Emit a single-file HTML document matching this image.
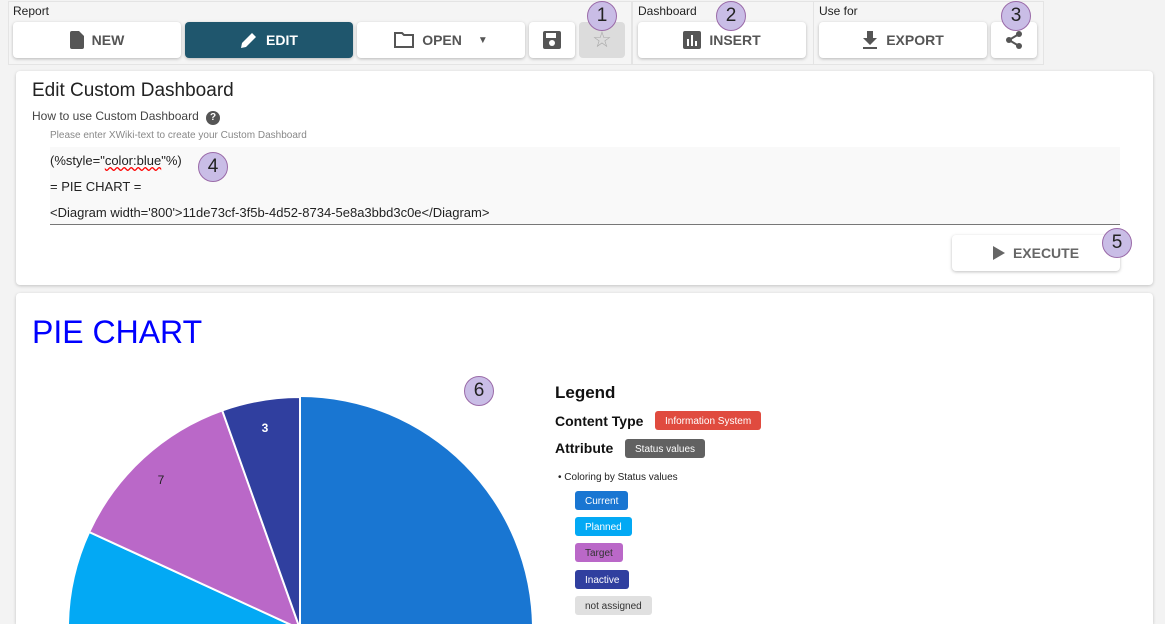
<!DOCTYPE html>
<html><head><meta charset="utf-8"><style>
html,body{margin:0;width:1165px;height:624px;overflow:hidden}
body{background:#f3f3f3;font-family:"Liberation Sans",sans-serif;position:relative}
.a{position:absolute}
.btn{position:absolute;top:22px;height:36px;background:#fff;border-radius:4px;box-shadow:0 1px 3px rgba(0,0,0,.25);display:flex;align-items:center;justify-content:center;font-size:14px;font-weight:bold;color:#555;gap:8px}
.lbl{position:absolute;top:4px;font-size:12px;color:#222}
.num{position:absolute;width:30px;height:30px;border-radius:50%;background:#c9bde6;border:1.5px solid #9a6aa8;box-sizing:border-box;font-size:19px;text-align:center;line-height:28px;color:#222}
.card{position:absolute;background:#fff;border-radius:4px;box-shadow:0 1px 3px rgba(0,0,0,.2)}
.tag{position:absolute;height:19px;border-radius:3px;font-size:10px;color:#fff;line-height:21px;padding:0 10px}
</style></head><body>
<div class="a" style="left:8px;top:1px;width:622px;height:62px;border:1px solid #e4e4e4;background:#f5f5f5"></div>
<div class="a" style="left:632px;top:1px;width:180px;height:62px;border:1px solid #e4e4e4;background:#f5f5f5"></div>
<div class="a" style="left:813px;top:1px;width:229px;height:62px;border:1px solid #e4e4e4;background:#f5f5f5"></div>
<div class="lbl" style="left:13px">Report</div>
<div class="lbl" style="left:638px">Dashboard</div>
<div class="lbl" style="left:819px">Use for</div>
<div class="btn" style="left:13px;width:168px"><svg width="14" height="18"><path d="M0 2a2 2 0 0 1 2-2h7l5 5v11a2 2 0 0 1-2 2H2a2 2 0 0 1-2-2z" fill="#555"/></svg>NEW</div>
<div class="btn" style="left:185px;width:168px;background:#1f566d;color:#fff"><svg width="18" height="18"><path d="M1 17l1-5L12 2l4 4L6 16z" fill="#fff"/></svg>EDIT</div>
<div class="btn" style="left:357px;width:168px"><svg width="20" height="16"><path d="M1 1h7l2 2h9v12H1z" fill="none" stroke="#555" stroke-width="2"/></svg>OPEN <span style="font-size:10px;margin-left:8px">▼</span></div>
<div class="btn" style="left:529px;width:46px"><svg width="18" height="18"><rect width="18" height="18" rx="2" fill="#555"/><rect x="3" y="2" width="10" height="5" fill="#fff"/><circle cx="9" cy="12" r="3" fill="#fff"/></svg></div>
<div class="btn" style="left:579px;width:46px;background:#dcdcdc;box-shadow:none;color:#aaa;font-size:22px;font-weight:normal">☆</div>
<div class="btn" style="left:638px;width:168px"><svg width="18" height="18"><rect width="18" height="18" rx="2" fill="#555"/><rect x="4" y="8" width="2" height="7" fill="#fff"/><rect x="8" y="4" width="2" height="11" fill="#fff"/><rect x="12" y="10" width="2" height="5" fill="#fff"/></svg>INSERT</div>
<div class="btn" style="left:819px;width:168px"><svg width="16" height="18"><path d="M5 0h6v7h4l-7 7-7-7h4zM1 16h14v2H1z" fill="#555"/></svg>EXPORT</div>
<div class="btn" style="left:991px;width:46px"><svg width="18" height="20"><circle cx="14" cy="4" r="3" fill="#555"/><circle cx="4" cy="10" r="3" fill="#555"/><circle cx="14" cy="16" r="3" fill="#555"/><path d="M14 4L4 10l10 6" stroke="#555" stroke-width="2" fill="none"/></svg></div>
<div class="num" style="left:587px;top:1px">1</div>
<div class="num" style="left:716px;top:1px">2</div>
<div class="num" style="left:1001px;top:1px">3</div>

<div class="card" style="left:16px;top:71px;width:1137px;height:214px"></div>
<div class="a" style="left:32px;top:80px;font-size:19px;color:#222">Edit Custom Dashboard</div>
<div class="a" style="left:32px;top:109px;font-size:12px;color:#444">How to use Custom Dashboard <span style="display:inline-block;width:14px;height:14px;border-radius:50%;background:#555;color:#fff;font-size:10px;text-align:center;line-height:14px;font-weight:bold;margin-left:4px">?</span></div>
<div class="a" style="left:50px;top:130px;font-size:10px;color:#888">Please enter XWiki-text to create your Custom Dashboard</div>
<div class="a" style="left:50px;top:147px;width:1070px;height:77px;background:#f9f9f9;border-bottom:1px solid #777"></div>
<div class="a" style="left:50px;top:148px;font-size:13px;color:#222;line-height:26px">(%style="<span style="text-decoration:underline wavy red">color:blue</span>"%)<br>= PIE CHART =<br>&lt;Diagram width='800'&gt;11de73cf-3f5b-4d52-8734-5e8a3bbd3c0e&lt;/Diagram&gt;</div>
<div class="num" style="left:198px;top:152px">4</div>
<div class="btn" style="left:952px;top:235px;width:168px;color:#666"><svg width="12" height="14"><path d="M0 0l12 7-12 7z" fill="#666"/></svg>EXECUTE</div>
<div class="num" style="left:1102px;top:228px">5</div>

<div class="card" style="left:16px;top:293px;width:1137px;height:331px;border-radius:4px 4px 0 0"></div>
<div class="a" style="left:32px;top:314px;font-size:32px;color:#0000ff">PIE CHART</div>
<svg class="a" style="left:0;top:0" width="1165" height="624">
<circle cx="300" cy="629" r="232" fill="#1976d2"/>
<path d="M300 629L89.2 532A232 232 0 0 0 300 861z" fill="#03a9f4" stroke="#fff" stroke-width="2"/>
<path d="M300 629L222.2 410.4A232 232 0 0 0 89.2 532z" fill="#ba68c8" stroke="#fff" stroke-width="2"/>
<path d="M300 629L300 397A232 232 0 0 0 222.2 410.4z" fill="#303f9f" stroke="#fff" stroke-width="2"/>
<text x="265" y="432" font-size="12" font-weight="bold" fill="#fff" text-anchor="middle" font-family="Liberation Sans">3</text>
<text x="161" y="484" font-size="12" fill="#222" text-anchor="middle" font-family="Liberation Sans">7</text>
</svg>
<div class="num" style="left:464px;top:376px">6</div>
<div class="a" style="left:555px;top:383px;font-size:17px;font-weight:bold;color:#111">Legend</div>
<div class="a" style="left:555px;top:413px;font-size:14px;font-weight:bold;color:#111">Content Type</div>
<div class="tag" style="left:655px;top:411px;background:#e04b3f">Information System</div>
<div class="a" style="left:555px;top:440px;font-size:14px;font-weight:bold;color:#111">Attribute</div>
<div class="tag" style="left:625px;top:439px;background:#616161">Status values</div>
<div class="a" style="left:558px;top:472px;font-size:10px;color:#222">• Coloring by Status values</div>
<div class="tag" style="left:575px;top:491px;background:#1976d2">Current</div>
<div class="tag" style="left:575px;top:517px;background:#03a9f4">Planned</div>
<div class="tag" style="left:575px;top:543px;background:#ba68c8;color:#333">Target</div>
<div class="tag" style="left:575px;top:570px;background:#303f9f">Inactive</div>
<div class="tag" style="left:575px;top:596px;background:#e0e0e0;color:#333">not assigned</div>
</body></html>
